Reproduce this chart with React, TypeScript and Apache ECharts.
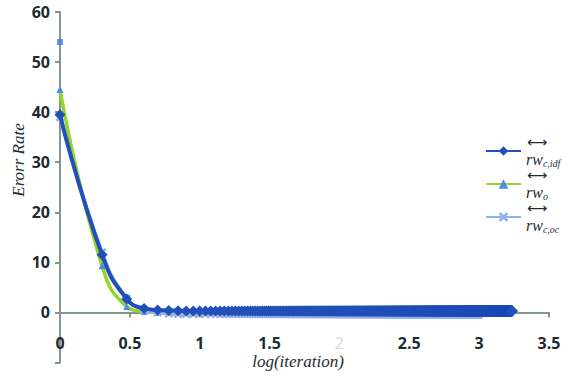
import React, { useEffect, useRef } from "react";
import * as echarts from "echarts";

// Error rate for the first iterations (1, 2, 3, ...)
const rwCIdfHead = [39.5, 11.5, 2.7, 0.8, 0.5, 0.4, 0.35, 0.3, 0.3, 0.3];
const rwCIdfPlateau = 0.3;
const rwCIdfLastIteration = 1720;

const rwOHead = [44.5, 9.3, 1.2, 0.2, 0, 0, 0, 0, 0, 0];
const rwOPlateau = 0;
const rwOLastIteration = 1000;

const rwCOcHead = [39, 12, 2.8, 0.5, 0, -0.2, -0.3, -0.3, -0.3, -0.3];
const rwCOcPlateau = -0.3;
const rwCOcLastIteration = 1000;

const extraPoint = [[0, 54]];

const seriesNames = ["c,idf", "o", "c,oc"];
const xTicks = ["0", "0.5", "1", "1.5", "2", "2.5", "3", "3.5"];
const yTicks = ["-10", "0", "10", "20", "30", "40", "50", "60"];

function buildSeries(head: number[], plateau: number, lastIteration: number) {
  const pts: number[][] = head.map((v, i) => [Math.log10(i + 1), v]);
  for (let it = head.length + 1; it <= lastIteration; it++) {
    pts.push([Math.log10(it), plateau]);
  }
  return pts;
}

const textDark = "#1c2b33";
const axisGray = "#879494";

export default function App() {
  const ref = useRef<HTMLDivElement>(null);
  useEffect(() => {
    if (!ref.current) return;
    const chart = echarts.init(ref.current, undefined, { renderer: "svg" });
    const tickFont = { fontFamily: "Open Sans", fontWeight: "bold" as const, fontSize: 16, color: textDark };
    chart.setOption({
      animation: false,
      backgroundColor: "#ffffff",
      grid: { left: 60, right: 14, top: 12, bottom: 13.5, containLabel: false, outerBoundsMode: "none" },
      xAxis: {
        type: "value",
        min: 0,
        max: 3.5,
        interval: 0.5,
        splitLine: { show: false },
        axisLine: { onZero: true, lineStyle: { color: axisGray, width: 2 } },
        axisTick: { show: true, length: 5, lineStyle: { color: axisGray, width: 2 } },
        axisLabel: {
          margin: -28,
          ...tickFont,
          formatter: (v: number) => {
            const s = xTicks.find((t) => Number(t) === v) ?? String(v);
            return s === "2" ? `{faint|${s}}` : s;
          },
          rich: {
            faint: { color: "#d8d8d8", fontFamily: "Open Sans", fontSize: 16, fontWeight: "normal" },
          },
        },
      },
      yAxis: {
        type: "value",
        min: -10,
        max: 60,
        interval: 10,
        splitLine: { show: false },
        axisLine: { lineStyle: { color: axisGray, width: 2 } },
        axisTick: { show: true, length: 5, lineStyle: { color: axisGray, width: 2 } },
        axisLabel: {
          margin: 10,
          ...tickFont,
          formatter: (v: number) => {
            const s = yTicks.find((t) => Number(t) === v) ?? String(v);
            return v < 0 ? "" : s;
          },
        },
      },
      legend: {
        orient: "vertical",
        left: 485,
        top: 135,
        padding: 0,
        itemWidth: 35,
        itemHeight: 12,
        itemGap: 0,
        data: seriesNames,
        formatter: (name: string) => `{arr|⟷}\n{rw|rw}{sub|${name}}`,
        textStyle: {
          rich: {
            arr: { fontFamily: "DejaVu Sans", fontSize: 14, lineHeight: 16, color: textDark, padding: [0, 0, 0, 1] },
            rw: { fontFamily: "Liberation Serif", fontStyle: "italic", fontSize: 16, lineHeight: 18, color: textDark },
            sub: { fontFamily: "Liberation Serif", fontStyle: "italic", fontSize: 10, lineHeight: 18, color: textDark, verticalAlign: "bottom" },
          },
        },
      },
      graphic: [
        {
          type: "text",
          x: 18,
          y: 160,
          rotation: Math.PI / 2,
          style: {
            text: "Erorr Rate",
            fontFamily: "Liberation Serif",
            fontStyle: "italic",
            fontSize: 17,
            fill: textDark,
            textAlign: "center",
            textVerticalAlign: "middle",
          },
        },
        {
          type: "text",
          x: 298,
          y: 361,
          style: {
            text: "log(iteration)",
            fontFamily: "Liberation Serif",
            fontStyle: "italic",
            fontSize: 17,
            fill: textDark,
            textAlign: "center",
            textVerticalAlign: "middle",
          },
        },
      ],
      series: [
        {
          name: "o",
          type: "line",
          smooth: true,
          data: buildSeries(rwOHead, rwOPlateau, rwOLastIteration),
          symbol: "triangle",
          symbolSize: 7,
          itemStyle: { color: "#4a8fe3" },
          lineStyle: { color: "#95d52b", width: 3.5 },
          z: 2,
        },
        {
          name: "c,oc",
          type: "line",
          smooth: true,
          data: buildSeries(rwCOcHead, rwCOcPlateau, rwCOcLastIteration),
          symbol: "path://M2,0 L5,3 L8,0 L10,2 L7,5 L10,8 L8,10 L5,7 L2,10 L0,8 L3,5 L0,2 Z",
          symbolSize: 9,
          itemStyle: { color: "#93b3e8" },
          lineStyle: { color: "#93b3e8", width: 3.5 },
          z: 3,
        },
        {
          name: "c,idf",
          type: "line",
          smooth: true,
          data: buildSeries(rwCIdfHead, rwCIdfPlateau, rwCIdfLastIteration),
          symbol: "diamond",
          symbolSize: 11,
          itemStyle: { color: "#2150b8" },
          lineStyle: { color: "#2150b8", width: 4 },
          z: 4,
        },
        {
          name: "extra",
          type: "scatter",
          data: extraPoint,
          symbol: "rect",
          symbolSize: 6,
          itemStyle: { color: "#3c80e3" },
          z: 5,
        },
      ],
    });
    return () => chart.dispose();
  }, []);
  return (
    <div
      ref={ref}
      style={{ position: "fixed", left: 0, top: 0, width: 563, height: 376 }}
    />
  );
}
